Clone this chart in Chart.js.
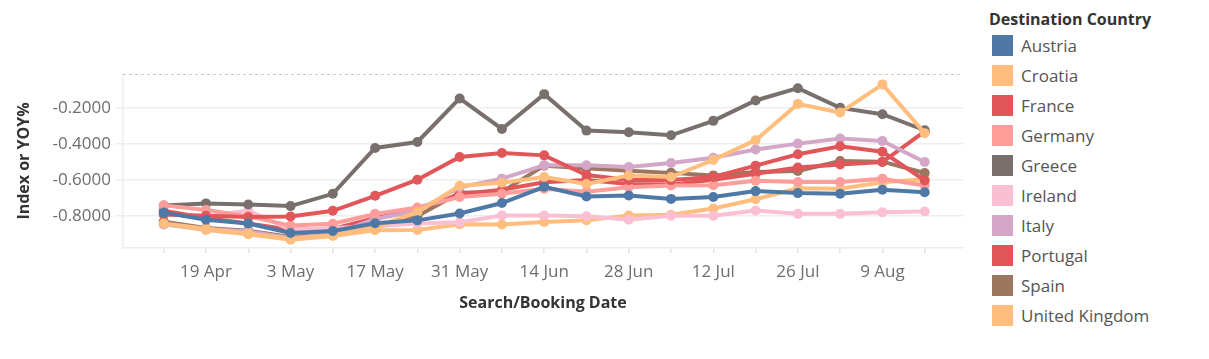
<!DOCTYPE html>
<html>
<head>
<meta charset="utf-8">
<script src="https://cdn.jsdelivr.net/npm/chart.js@4.4.0/dist/chart.umd.min.js"></script>
<style>
  body { margin: 0; background: #fff; font-family: "Open Sans", sans-serif; }
  #wrap { position: relative; width: 1209px; height: 359px; }
  #chart { position: absolute; left: 0; top: 0; }
  #legend { position: absolute; left: 989px; top: 8px; }
  #legend .title { font-weight: bold; font-size: 16px; color: #333; height: 22px; line-height: 22px; }
  #legend .item { height: 30px; display: flex; align-items: center; font-size: 17px; color: #555; }
  #legend .sw { width: 21px; height: 21px; margin: 0 8px 0 3px; }
</style>
</head>
<body>
<div id="wrap">
  <canvas id="chart" width="975" height="359"></canvas>
  <div id="legend"></div>
</div>
<script>
// semanas (x) e séries
const weeks = ['12 Apr', '19 Apr', '26 Apr', '3 May', '10 May', '17 May', '24 May', '31 May', '7 Jun', '14 Jun',
  '21 Jun', '28 Jun', '5 Jul', '12 Jul', '19 Jul', '26 Jul', '2 Aug', '9 Aug', '16 Aug'];
const yTicks = [-0.2, -0.4, -0.6, -0.8];

const countries = ['Austria', 'Croatia', 'France', 'Germany', 'Greece', 'Ireland', 'Italy', 'Portugal', 'Spain', 'United Kingdom'];
const colors = ['#4E79A7', '#FFBE7D', '#E15759', '#FF9D9A', '#79706E', '#FABFD2', '#D4A6C8', '#E15759', '#9D7660', '#FFBE7D'];

const austria = [-0.78, -0.82, -0.84, -0.893, -0.882, -0.839, -0.823, -0.785, -0.727, -0.637, -0.691, -0.685, -0.704, -0.694, -0.661, -0.672, -0.676, -0.653, -0.667];
const croatia = [-0.84, -0.87, -0.895, -0.925, -0.905, -0.861, -0.778, -0.631, -0.615, -0.583, -0.622, -0.574, -0.583, -0.488, -0.379, -0.178, -0.226, -0.07, -0.34];
const france = [-0.79, -0.797, -0.805, -0.802, -0.77, -0.687, -0.598, -0.472, -0.45, -0.463, -0.572, -0.6, -0.6, -0.583, -0.52, -0.457, -0.413, -0.443, -0.602];
const germany = [-0.74, -0.765, -0.8, -0.852, -0.842, -0.787, -0.752, -0.694, -0.676, -0.648, -0.665, -0.64, -0.63, -0.628, -0.603, -0.611, -0.611, -0.592, -0.63];
const greece = [-0.741, -0.729, -0.735, -0.744, -0.676, -0.422, -0.389, -0.148, -0.317, -0.124, -0.326, -0.335, -0.352, -0.272, -0.159, -0.091, -0.2, -0.235, -0.324];
const ireland = [-0.79, -0.8, -0.768, -0.875, -0.865, -0.855, -0.84, -0.833, -0.796, -0.796, -0.8, -0.82, -0.797, -0.797, -0.768, -0.787, -0.787, -0.778, -0.774];
const italy = [-0.845, -0.87, -0.885, -0.92, -0.9, -0.815, -0.77, -0.64, -0.592, -0.518, -0.518, -0.528, -0.505, -0.476, -0.431, -0.398, -0.37, -0.383, -0.5];
const portugal = [-0.77, -0.81, -0.84, -0.875, -0.87, -0.81, -0.765, -0.678, -0.653, -0.612, -0.6, -0.622, -0.625, -0.598, -0.565, -0.53, -0.513, -0.5, -0.33];
const spain = [-0.83, -0.865, -0.88, -0.915, -0.895, -0.86, -0.8, -0.67, -0.665, -0.52, -0.535, -0.548, -0.56, -0.574, -0.555, -0.55, -0.494, -0.498, -0.561];
const unitedKingdom = [-0.845, -0.876, -0.9, -0.93, -0.91, -0.878, -0.876, -0.845, -0.846, -0.832, -0.822, -0.796, -0.792, -0.757, -0.706, -0.645, -0.648, -0.612, -0.595];

const series = [austria, croatia, france, germany, greece, ireland, italy, portugal, spain, unitedKingdom];

// legenda em HTML
const legend = document.getElementById('legend');
legend.innerHTML = '<div class="title">Destination Country</div>' +
  countries.map((c, i) => '<div class="item"><span class="sw" style="background:' + colors[i] + '"></span>' + c + '</div>').join('');

// linha tracejada no topo da área do gráfico
const topDash = {
  id: 'topDash',
  beforeDatasetsDraw(chart) {
    const { ctx, chartArea } = chart;
    ctx.save();
    ctx.strokeStyle = '#c9c9c9';
    ctx.lineWidth = 1;
    ctx.setLineDash([3, 3]);
    ctx.beginPath();
    ctx.moveTo(chartArea.left, chartArea.top + 0.5);
    ctx.lineTo(chartArea.right, chartArea.top + 0.5);
    ctx.stroke();
    ctx.restore();
  }
};

const ctx = document.getElementById('chart').getContext('2d');

new Chart(ctx, {
  type: 'line',
  data: {
    datasets: countries.map((c, i) => ({
      label: c,
      data: series[i].map((v, k) => ({ x: k, y: v })),
      borderColor: colors[i],
      backgroundColor: colors[i],
      pointBackgroundColor: colors[i],
      pointBorderWidth: 0,
      pointRadius: 5,
      borderWidth: 4,
      tension: 0
    }))
  },
  options: {
    responsive: false,
    animation: false,
    layout: { padding: { left: 0, top: 74, right: 12, bottom: 0 } },
    plugins: { legend: { display: false }, tooltip: { enabled: false } },
    scales: {
      x: {
        type: 'linear',
        min: -0.963,
        max: 18.906,
        afterBuildTicks: s => { s.ticks = weeks.map((w, k) => ({ value: k })); },
        afterFit: s => { s.height = 111; },
        ticks: {
          autoSkip: false,
          maxRotation: 0,
          padding: 9,
          color: '#6e6e6e',
          font: { family: 'Open Sans', size: 17 },
          callback: v => (v % 2 === 1 ? weeks[v] : '')
        },
        grid: { drawOnChartArea: false, drawTicks: true, tickLength: 5, color: '#e3e3e3', lineWidth: 1.5 },
        border: { display: true, color: '#ececec', width: 1.5 },
        title: {
          display: true,
          text: 'Search/Booking Date',
          color: '#333',
          font: { family: 'Open Sans', size: 16, weight: 'bold' },
          padding: { top: 0, bottom: 46 }
        }
      },
      y: {
        min: -0.976,
        max: -0.0125,
        afterBuildTicks: s => { s.ticks = yTicks.map(v => ({ value: v })); },
        afterFit: s => { s.width = 123; },
        ticks: {
          padding: 4,
          color: '#6e6e6e',
          font: { family: 'Open Sans', size: 17 },
          callback: v => v.toFixed(4)
        },
        grid: { color: '#eeeeee', tickColor: '#eeeeee', tickLength: 8, lineWidth: 1.5 },
        border: { display: true, color: '#ececec', width: 1.5 },
        title: {
          display: true,
          text: 'Index or YOY%',
          color: '#333',
          font: { family: 'Open Sans', size: 16, weight: 'bold' },
          padding: { top: 15, bottom: 0 }
        }
      }
    }
  },
  plugins: [topDash]
});
</script>
</body>
</html>
